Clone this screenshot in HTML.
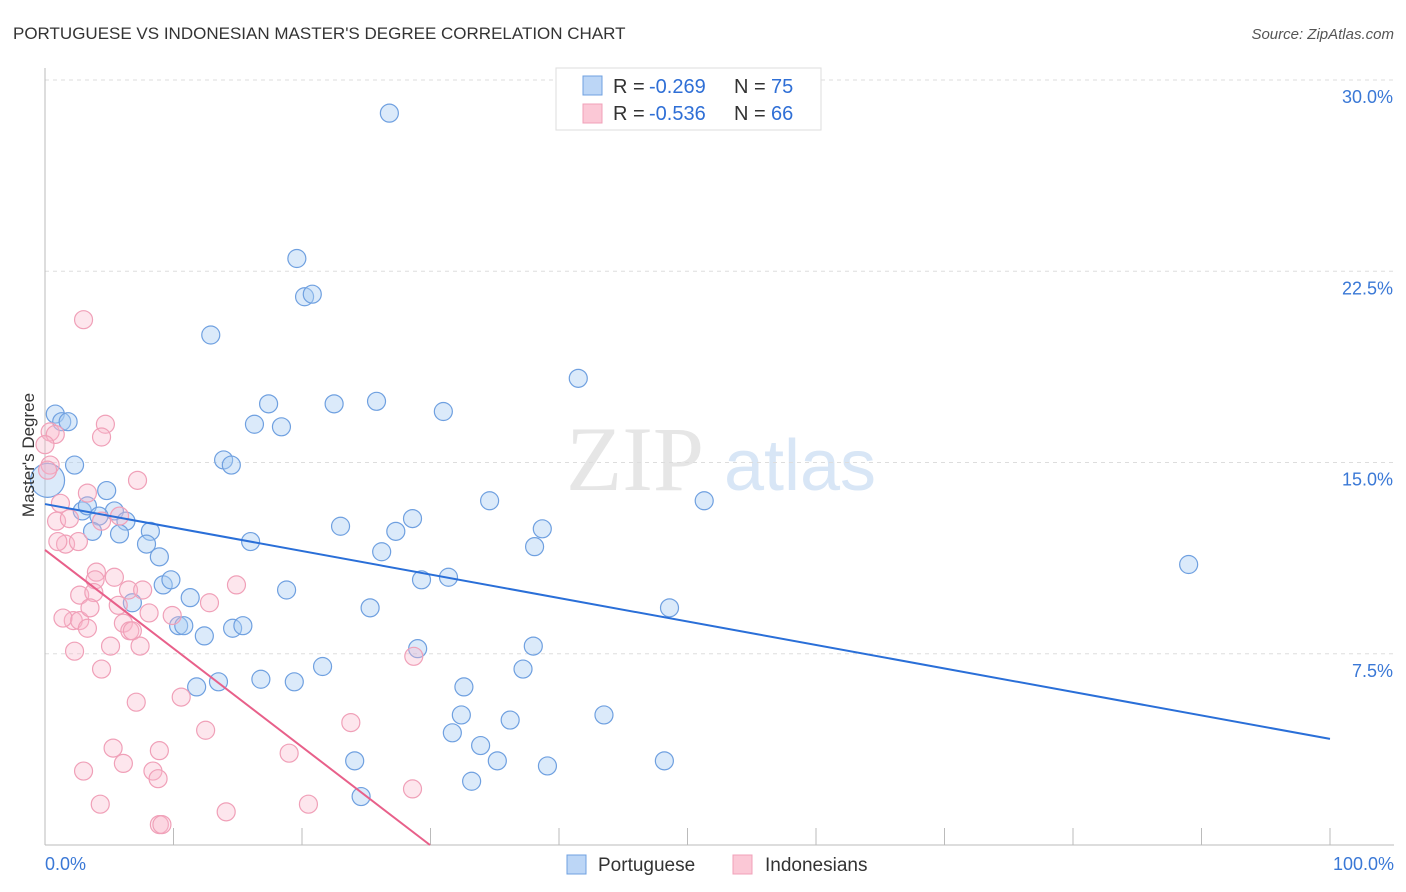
<!DOCTYPE html>
<html><head><meta charset="utf-8"><style>
body{margin:0;background:#fff;font-family:"Liberation Sans",sans-serif}
svg{display:block}
</style></head><body>
<svg id="chart" width="1406" height="892">
<text x="13" y="39" font-size="17" fill="#333">PORTUGUESE VS INDONESIAN MASTER'S DEGREE CORRELATION CHART</text>
<text x="1394" y="39" font-size="15" fill="#555" font-style="italic" text-anchor="end">Source: ZipAtlas.com</text>
<g>
<text x="635" y="490" font-size="92" fill="#e6e6e6" font-family="Liberation Serif,serif" text-anchor="middle">ZIP</text>
<text x="800" y="490" font-size="72" fill="#d8e6f6" text-anchor="middle">atlas</text>
</g>
<g id="grid"></g>
<g id="axes"></g>
<g id="marks"></g>
<text transform="translate(34,455) rotate(-90)" font-size="17" fill="#333" text-anchor="middle">Master's Degree</text>
<g>
<rect x="556" y="68" width="265" height="62" fill="#fff" stroke="#ddd"/>
<rect x="583" y="76" width="19" height="19" fill="#bcd6f6" stroke="#6fa0e0"/>
<rect x="583" y="104" width="19" height="19" fill="#fbc8d6" stroke="#f0a0b8"/>
<text x="613" y="93" font-size="20" fill="#333">R =</text>
<text x="649" y="93" font-size="20" fill="#2f6fd6">-0.269</text>
<text x="734" y="93" font-size="20" fill="#333">N =</text>
<text x="771" y="93" font-size="20" fill="#2f6fd6">75</text>
<text x="613" y="120" font-size="20" fill="#333">R =</text>
<text x="649" y="120" font-size="20" fill="#2f6fd6">-0.536</text>
<text x="734" y="120" font-size="20" fill="#333">N =</text>
<text x="771" y="120" font-size="20" fill="#2f6fd6">66</text>
</g>
<g>
<rect x="567" y="855" width="19" height="19" fill="#bcd6f6" stroke="#6fa0e0"/>
<text x="598" y="871" font-size="19" fill="#333">Portuguese</text>
<rect x="733" y="855" width="19" height="19" fill="#fbc8d6" stroke="#f0a0b8"/>
<text x="765" y="871" font-size="19" fill="#333">Indonesians</text>
</g>
</svg>
<script>
const yTicks=[7.5,15,22.5,30];
const yTickLabels=["7.5%","15.0%","22.5%","30.0%"];
const xTicks=[0,10,20,30,40,50,60,70,80,90,100];
const blueX=[26.8,19.6,20.2,20.8,12.9,41.5,17.4,22.5,25.8,31.0,16.3,18.4,0.8,1.3,1.8,2.3,13.9,14.5,7.2,4.8,34.6,51.3,2.9,3.3,5.4,6.3,4.2,23.0,28.6,27.3,38.7,8.2,3.7,5.8,7.9,16.0,38.1,26.2,8.9,89.0,29.3,31.4,9.2,9.8,18.8,11.3,6.8,25.3,48.6,10.4,10.8,14.6,15.4,12.4,29.0,38.0,21.6,37.2,16.8,13.5,11.8,19.4,32.6,32.4,36.2,43.5,31.7,33.9,24.1,35.2,48.2,39.1,33.2,24.6];
const blueY=[28.7,23.0,21.5,21.6,20.0,18.3,17.3,17.3,17.4,17.0,16.5,16.4,16.9,16.6,16.6,14.9,15.1,14.9,14.3,13.9,13.5,13.5,13.1,13.3,13.1,12.7,12.9,12.5,12.8,12.3,12.4,12.3,12.3,12.2,11.8,11.9,11.7,11.5,11.3,11.0,10.4,10.5,10.2,10.4,10.0,9.7,9.5,9.3,9.3,8.6,8.6,8.5,8.6,8.2,7.7,7.8,7.0,6.9,6.5,6.4,6.2,6.4,6.2,5.1,4.9,5.1,4.4,3.9,3.3,3.3,3.3,3.1,2.5,1.9];
const pinkX=[3.0,4.7,4.4,0.4,0.8,0.0,0.4,0.2,7.2,1.2,3.3,0.9,1.9,4.4,5.8,1.6,2.6,1.0,14.9,4.0,3.9,5.4,6.5,7.6,2.7,3.8,2.2,1.4,2.7,3.5,5.7,8.1,9.9,12.8,6.1,6.6,6.8,3.3,7.4,5.1,2.3,28.7,4.4,10.6,7.1,23.8,12.5,5.3,8.9,19.0,6.1,3.0,8.4,8.8,4.3,20.5,14.1,28.6,8.9,9.1];
const pinkY=[20.6,16.5,16.0,16.2,16.1,15.7,14.9,14.7,14.3,13.4,13.8,12.7,12.8,12.7,12.9,11.8,11.9,11.9,10.2,10.7,10.4,10.5,10.0,10.0,9.8,9.9,8.8,8.9,8.8,9.3,9.4,9.1,9.0,9.5,8.7,8.4,8.4,8.5,7.8,7.8,7.6,7.4,6.9,5.8,5.6,4.8,4.5,3.8,3.7,3.6,3.2,2.9,2.9,2.6,1.6,1.6,1.3,2.2,0.8,0.8];
const blueTrend=[13.37,4.16];
const pinkTrend=[11.57,29.96];
const NS="http://www.w3.org/2000/svg";
const X=v=>45+v*12.85, Y=v=>845-v*25.5;
function mk(tag,attrs,parent){const e=document.createElementNS(NS,tag);for(const k in attrs)e.setAttribute(k,attrs[k]);parent.appendChild(e);return e;}
const grid=document.getElementById('grid'),axes=document.getElementById('axes'),marks=document.getElementById('marks');
yTicks.forEach((t,i)=>{
 const l=mk('line',{x1:45,x2:1394,y1:Y(t),y2:Y(t),stroke:'#ddd','stroke-dasharray':'4,4'},grid);
 
 
 const tx=mk('text',{x:1393,y:Y(t)+23,'font-size':18,fill:'#3a78d6','text-anchor':'end'},axes);
 tx.textContent=yTickLabels[i];
 
 
});
const ya=mk('line',{x1:45,x2:45,y1:68,y2:845,stroke:'#bbb'},axes);


const xa=mk('line',{x1:45,x2:1394,y1:845,y2:845,stroke:'#bbb'},axes);


xTicks.forEach(t=>{const l=mk('line',{x1:X(t),x2:X(t),y1:828,y2:845,stroke:'#bbb'},axes);
 
 });
[[0,'0.0%','start',45],[100,'100.0%','end',1394]].forEach(a=>{const tx=mk('text',{x:a[3],y:870,'font-size':18,fill:'#3a78d6','text-anchor':a[2]},axes);tx.textContent=a[1];
 
 });
blueX.forEach((x,i)=>{const c=mk('circle',{cx:X(x),cy:Y(blueY[i]),r:(i==18?0:9),fill:'rgba(170,204,242,0.42)',stroke:'#6fa0e0','stroke-width':1.2},marks);
 
 });
const big=mk('circle',{cx:X(0.2),cy:Y(14.3),r:17,fill:'rgba(170,204,242,0.42)',stroke:'#6fa0e0','stroke-width':1.2},marks);


pinkX.forEach((x,i)=>{const c=mk('circle',{cx:X(x),cy:Y(pinkY[i]),r:9,fill:'rgba(248,182,202,0.35)',stroke:'#f0a0b8','stroke-width':1.2},marks);
 
 });
const bl=mk('line',{x1:X(0),y1:Y(blueTrend[0]),x2:X(100),y2:Y(blueTrend[1]),stroke:'#2a6fd8','stroke-width':2},marks);


const pl=mk('line',{x1:X(0),y1:Y(pinkTrend[0]),x2:X(pinkTrend[1]),y2:Y(0),stroke:'#e8608a','stroke-width':2},marks);


</script>
</body></html>
